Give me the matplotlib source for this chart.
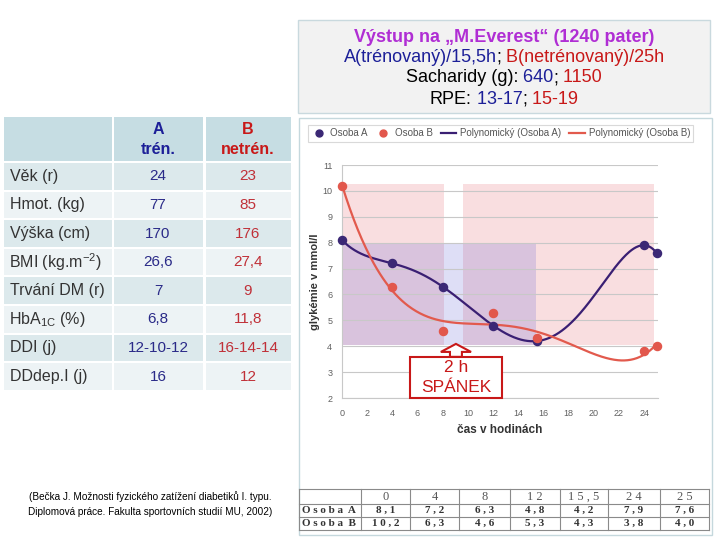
import numpy as np
import matplotlib
matplotlib.use("Agg")
import matplotlib.pyplot as plt
from matplotlib.patches import Rectangle, FancyArrow
from matplotlib.lines import Line2D

plt.rcParams['font.family'] = ['Liberation Sans', 'DejaVu Sans']
plt.rcParams['mathtext.fontset'] = 'custom'
plt.rcParams['mathtext.rm'] = 'Liberation Sans'
plt.rcParams['mathtext.it'] = 'Liberation Sans:italic'
plt.rcParams['mathtext.bf'] = 'Liberation Sans:bold'

# measured glycaemia during the climb
hours = [0, 4, 8, 12, 15.5, 24, 25]
hour_labels = ['0', '4', '8', '12', '15,5', '24', '25']
osoba_a = [8.1, 7.2, 6.3, 4.8, 4.2, 7.9, 7.6]
osoba_b = [10.2, 6.3, 4.6, 5.3, 4.3, 3.8, 4.0]

# shaded ranges in the chart (hours, mmol/l)
pink_spans = [(0, 8.1), (9.6, 24.8)]
pink_range = (4.05, 10.27)
purple_span = (0, 15.4)
purple_range = (4.05, 8.0)
sleep_at = 9.05

# left table
row_labels = ['Věk (r)', 'Hmot. (kg)', 'Výška (cm)', r'BMI (kg.m$^{-2}$)',
              'Trvání DM (r)', r'HbA$_{\mathrm{1C}}$ (%)', 'DDI (j)', 'DDdep.I (j)']
values_a = ['24', '77', '170', '26,6', '7', '6,8', '12-10-12', '16']
values_b = ['23', '85', '176', '27,4', '9', '11,8', '16-14-14', '12']

BLUE = '#1c1f98'
RED = '#c81818'
MAGENTA = '#b02ed4'
COL_A = '#3b2875'
COL_B = '#e2574c'


def fmt(v):
    return ('%.1f' % v).replace('.', ',')


def spaced(s):
    return ' '.join(s)


fig = plt.figure(figsize=(7.2, 5.4), dpi=100)

# overlay in pixel coordinates for the slide decorations
bg = fig.add_axes([0, 0, 1, 1])
bg.set_xlim(0, 720)
bg.set_ylim(540, 0)
bg.axis('off')
renderer = fig.canvas.get_renderer()


def colored_line(xc, y, parts, **kw):
    texts = [bg.text(0, y, s, color=c, ha='left', va='center', **kw) for s, c in parts]
    widths = [t.get_window_extent(renderer).width for t in texts]
    x = xc - sum(widths) / 2
    for t, w in zip(texts, widths):
        t.set_x(x)
        x += w


# title box
bg.add_patch(Rectangle((298, 20), 412, 93, fc='#f2f2f2', ec='#c9d9de', lw=1))
bg.text(504, 37, 'Výstup na „M.Everest“ (1240 pater)', color=MAGENTA,
        fontsize=13, fontweight='bold', ha='center', va='center')
colored_line(504, 57, [('A(trénovaný)/15,5h', BLUE), (';', 'black'),
                       (' B(netrénovaný)/25h', RED)], fontsize=13)
colored_line(504, 78, [('Sacharidy (g):', 'black'), (' 640', BLUE), (';', 'black'),
                       (' 1150', RED)], fontsize=13)
colored_line(504, 99, [('RPE:', 'black'), (' 13-17', BLUE), (';', 'black'),
                       (' 15-19', RED)], fontsize=13)

# chart frame
bg.add_patch(Rectangle((299, 118), 413, 417, fc='none', ec='#c5d8dd', lw=1))

# left table
col_x = [(4, 112), (114, 203), (206, 291)]
bg_rows = ['#dce9ec', '#edf3f5']
for x0, x1 in col_x:
    bg.add_patch(Rectangle((x0, 117), x1 - x0, 44, fc='#c6dde3', ec='none'))
bg.text(158, 130, 'A', color=BLUE, fontsize=11.5, fontweight='bold', ha='center', va='center')
bg.text(158, 150, 'trén.', color=BLUE, fontsize=11.5, fontweight='bold', ha='center', va='center')
bg.text(248, 130, 'B', color=RED, fontsize=11.5, fontweight='bold', ha='center', va='center')
bg.text(248, 150, 'netrén.', color=RED, fontsize=11.5, fontweight='bold', ha='center', va='center')

row_top = 163
row_h = 28.6
for i, (lab, va, vb) in enumerate(zip(row_labels, values_a, values_b)):
    y0 = row_top + i * row_h
    for x0, x1 in col_x:
        bg.add_patch(Rectangle((x0, y0), x1 - x0, row_h - 2, fc=bg_rows[i % 2], ec='none'))
    yc = y0 + row_h / 2 - 1
    bg.text(9 if '$' in lab else 10, yc, lab, color='#333333', fontsize=11.5, ha='left', va='center')
    bg.text(158, yc, va, color='#2a2a88', fontsize=11, ha='center', va='center')
    bg.text(248, yc, vb, color='#c03038', fontsize=11, ha='center', va='center')

bg.text(150, 497, '(Bečka J. Možnosti fyzického zatížení diabetiků I. typu.',
        fontsize=7.2, ha='center', va='center')
bg.text(150, 512, 'Diplomová práce. Fakulta sportovních studií MU, 2002)',
        fontsize=7.2, ha='center', va='center')

# bottom data table
tx = [299, 361, 410, 459, 510, 560, 608, 660, 709]
ty = [489, 504, 517, 530]
for x in tx:
    bg.plot([x, x], [ty[0], ty[-1]], color='#8a8a8a', lw=0.8)
for y in ty:
    bg.plot([tx[0], tx[-1]], [y, y], color='#8a8a8a', lw=0.8)
for j, h in enumerate(hour_labels):
    xc = (tx[j + 1] + tx[j + 2]) / 2
    bg.text(xc, (ty[0] + ty[1]) / 2, spaced(h), family='Liberation Serif', fontsize=9,
            color='#555555', ha='center', va='center')
    bg.text(xc, (ty[1] + ty[2]) / 2, spaced(fmt(osoba_a[j])), family='Liberation Serif',
            fontsize=8, fontweight='bold', color='#333333', ha='center', va='center')
    bg.text(xc, (ty[2] + ty[3]) / 2, spaced(fmt(osoba_b[j])), family='Liberation Serif',
            fontsize=8, fontweight='bold', color='#333333', ha='center', va='center')
bg.text(tx[0] + 3, (ty[1] + ty[2]) / 2, spaced('Osoba') + '  A', family='Liberation Serif',
        fontsize=8, fontweight='bold', color='#333333', ha='left', va='center')
bg.text(tx[0] + 3, (ty[2] + ty[3]) / 2, spaced('Osoba') + '  B', family='Liberation Serif',
        fontsize=8, fontweight='bold', color='#333333', ha='left', va='center')

# chart
ax = fig.add_axes([342 / 720, 1 - 398 / 540, 316 / 720, 233 / 540])
ax.set_xlim(0, 25.1)
ax.set_ylim(2, 11)

for x0, x1 in pink_spans:
    ax.add_patch(Rectangle((x0, pink_range[0]), x1 - x0, pink_range[1] - pink_range[0],
                           fc='#f9dee0', ec='none', zorder=0.2))
ax.add_patch(Rectangle((purple_span[0], purple_range[0]), purple_span[1] - purple_span[0],
                       purple_range[1] - purple_range[0], fc=(90 / 255, 90 / 255, 210 / 255),
                       alpha=0.2, ec='none', zorder=0.3))

xs = np.linspace(0, 25, 400)
fit_a = np.polyval(np.polyfit(hours, osoba_a, 6), xs)
fit_b = np.polyval(np.polyfit(hours, osoba_b, 5), xs)
ax.plot(xs, fit_a, color='#3a1f73', lw=1.6, zorder=3)
ax.plot(xs, fit_b, color='#e25a4d', lw=1.6, zorder=3)
ax.scatter(hours, osoba_a, s=34, color=COL_A, zorder=4, clip_on=False)
ax.scatter(hours, osoba_b, s=34, color=COL_B, zorder=4, clip_on=False)

ax.set_axisbelow(True)
ax.yaxis.grid(True, color='#c8c8c8', lw=0.8)
ax.set_xticks(range(0, 25, 2))
ax.set_yticks(range(2, 12))
ax.tick_params(length=0, labelsize=6.5, labelcolor='#606060')
ax.tick_params(axis='y', pad=7)
ax.tick_params(axis='x', pad=8)
for s in ['top', 'right']:
    ax.spines[s].set_visible(False)
ax.spines['left'].set_color('#c8c8c8')
ax.spines['bottom'].set_color('#c8c8c8')
ax.set_ylabel('glykémie v mmol/l', fontsize=8, fontweight='bold', color='#333333', labelpad=2)
ax.set_xlabel('čas v hodinách', fontsize=8.5, fontweight='bold', color='#333333', labelpad=4)

# sleep marker
ax.add_patch(Rectangle((5.4, 2.0), 7.3, 1.59, fc='white', ec=RED, lw=1.5, zorder=5, clip_on=False))
ax.add_patch(FancyArrow(sleep_at, 3.59, 0, 0.5, width=0.95, head_width=2.4, head_length=0.31,
                        length_includes_head=True, fc='white', ec=RED, lw=1.5, zorder=5))
ax.text(sleep_at, 3.16, '2 h', color=RED, fontsize=12.5, ha='center', va='center', zorder=6)
ax.text(sleep_at, 2.39, 'SPÁNEK', color=RED, fontsize=12.5, ha='center', va='center', zorder=6)

handles = [Line2D([], [], ls='none', marker='o', ms=5, color=COL_A),
           Line2D([], [], ls='none', marker='o', ms=5, color=COL_B),
           Line2D([], [], color='#3a1f73', lw=1.6),
           Line2D([], [], color='#e25a4d', lw=1.6)]
labels = ['Osoba A', 'Osoba B', 'Polynomický (Osoba A)', 'Polynomický (Osoba B)']
leg = ax.legend(handles, labels, loc='center', bbox_to_anchor=(500.5 / 720, 1 - 133.5 / 540),
                bbox_transform=fig.transFigure, ncol=4, fontsize=7, frameon=True,
                fancybox=False, edgecolor='#d0d0d0', handlelength=1.6, handletextpad=0.4,
                columnspacing=0.8, borderpad=0.35)
for t in leg.get_texts():
    t.set_color('#555555')
leg.get_frame().set_linewidth(0.8)

fig.savefig('out.png', dpi=100)
